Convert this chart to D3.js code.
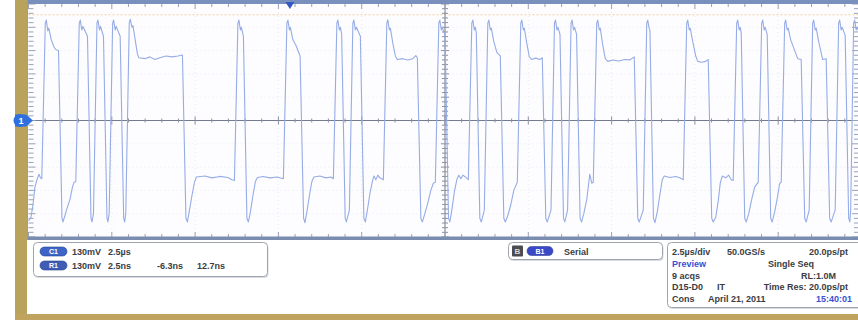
<!DOCTYPE html>
<html>
<head>
<meta charset="utf-8">
<script src="https://d3js.org/d3.v7.min.js"></script>
<style>
  body { margin: 0; background: #ffffff; }
  svg { display: block; }
  text { font-family: "Liberation Sans", Arial, sans-serif; font-weight: bold; }
</style>
</head>
<body>
<div id="chart"></div>
<script>
// Acquisition window: 10 x 2.5 ns horizontally, 10 x 130 mV vertically
const timeSpanPs = [0, 25000];
const voltSpanMv = [-650, 650];
const psPerDiv = 2500;
const mvPerDiv = 130;

// Trace samples [time ps, level mV]
const traceSamples = [
  [0,-560],[75,-540],[135,-470],[195,-370],[255,-330],[315,-300],[360,-320],[399,-325],
  [504,545],[534,560],[579,500],[609,515],[684,450],[765,410],[825,395],[900,390],
  [1005,-545],[1035,-566],[1095,-530],[1155,-490],[1245,-440],[1320,-370],[1365,-345],[1419,-340],
  [1524,545],[1554,560],[1599,505],[1635,525],[1770,470],
  [1875,-545],[1905,-566],[1950,-520],
  [2055,545],[2085,560],[2130,505],[2160,525],[2250,470],
  [2355,-545],[2385,-566],[2421,-520],
  [2526,545],[2556,560],[2601,505],[2631,525],[2751,470],
  [2856,-545],[2886,-566],[2919,-520],
  [3024,545],[3054,565],[3105,520],[3135,530],[3210,440],[3270,370],[3315,350],[3495,345],[3645,355],[3795,340],[3945,350],[4125,360],[4305,355],[4485,360],[4620,365],
  [4725,-545],[4770,-566],[4830,-500],[4905,-420],[4980,-345],[5040,-315],[5295,-310],[5505,-320],[5745,-312],[5985,-318],[6105,-330],[6180,-335],
  [6285,545],[6315,560],[6360,505],[6390,520],[6450,470],
  [6555,-545],[6600,-566],[6660,-510],[6735,-420],[6810,-340],[6870,-318],[7035,-312],[7245,-320],[7455,-315],[7650,-325],
  [7755,545],[7785,560],[7830,505],[7860,520],[7935,450],[8025,420],[8151,360],
  [8256,-545],[8295,-570],[8355,-510],[8430,-420],[8505,-340],[8565,-315],[8745,-310],[8925,-320],[9075,-315],[9150,-325],
  [9255,545],[9285,560],[9330,505],[9360,520],[9399,480],
  [9504,-545],[9540,-566],[9630,-500],
  [9735,545],[9765,560],[9810,505],[9840,520],[9960,470],
  [10065,-545],[10110,-566],[10170,-500],[10245,-410],[10320,-340],[10365,-310],[10425,-330],[10485,-305],[10545,-320],[10650,-330],
  [10755,545],[10785,562],[10830,505],[10860,515],[10935,430],[11010,360],[11070,340],[11235,345],[11385,338],[11535,345],[11625,362],[11670,350],
  [11775,-545],[11820,-566],[11895,-520],[11985,-460],[12075,-390],[12150,-350],[12210,-345],
  [12315,545],[12345,560],[12390,505],[12420,520],[12501,475],
  [12606,-545],[12645,-566],[12705,-500],[12780,-400],[12855,-330],[12915,-305],[12975,-325],[13035,-305],[13110,-315],[13200,-330],
  [13305,545],[13335,560],[13380,505],[13410,520],[13440,490],
  [13545,-545],[13590,-566],[13680,-500],
  [13785,545],[13815,560],[13860,505],[13890,515],[13965,440],[14055,380],[14160,360],
  [14265,-545],[14310,-566],[14385,-530],[14475,-470],[14565,-390],[14670,-345],
  [14775,545],[14805,560],[14850,505],[14880,515],[14955,430],[15030,355],[15105,340],[15225,348],[15345,340],[15420,350],
  [15525,-545],[15570,-566],[15681,-500],
  [15786,545],[15816,560],[15861,505],[15891,520],[15951,480],
  [16056,-545],[16095,-566],[16179,-500],
  [16284,545],[16314,560],[16359,505],[16389,520],[16449,480],
  [16554,-545],[16599,-566],[16665,-520],[16755,-440],[16845,-300],[16905,-350],[16950,-345],
  [17055,545],[17085,560],[17130,505],[17160,515],[17235,420],[17310,345],[17385,330],[17535,338],[17715,332],[17895,340],[18045,338],[18180,355],
  [18285,-545],[18330,-566],[18450,-500],
  [18555,545],[18585,560],[18621,520],[18651,500],
  [18756,-545],[18801,-570],[18870,-510],[18945,-420],[19020,-330],[19080,-310],[19245,-318],[19425,-312],[19545,-320],[19650,-330],
  [19755,545],[19785,560],[19830,505],[19860,515],[19935,440],[20025,360],[20085,330],[20205,325],[20325,330],[20400,340],
  [20505,-545],[20550,-566],[20625,-540],[20700,-450],[20760,-350],[20820,-310],[20925,-320],[21015,-305],[21090,-330],[21150,-335],
  [21255,545],[21285,560],[21330,505],[21360,520],[21390,490],
  [21495,-545],[21540,-566],[21615,-520],[21705,-440],[21795,-370],[21900,-345],
  [22005,545],[22035,560],[22080,505],[22110,520],[22170,480],
  [22275,-545],[22320,-566],[22395,-510],[22485,-420],[22545,-350],[22590,-345],
  [22695,545],[22725,560],[22770,505],[22800,515],[22875,450],[22995,390],[23085,345],[23190,340],
  [23295,-545],[23340,-566],[23430,-500],
  [23535,545],[23565,560],[23610,505],[23640,515],[23715,440],[23835,340],[23940,345],
  [24045,-545],[24090,-566],[24210,-500],
  [24315,545],[24345,560],[24390,505],[24420,520],[24510,475],
  [24615,-545],[24651,-566],[24675,-500],
  [24765,545],[24795,560],[24840,505],[24870,520],[24990,470]
];

const triggerPs = 7845;
const refLevelMv = 590;

// Readout texts
const chanRows = [
  { badge: "C1", values: ["130mV", "2.5µs"] },
  { badge: "R1", values: ["130mV", "2.5ns", "-6.3ns", "12.7ns"] }
];
const chanValueX = [72, 108, 157, 197];
const serialLabel = "Serial";
const acqRows = [
  ["2.5µs/div", "50.0GS/s", "20.0ps/pt"],
  ["Preview", "Single Seq", ""],
  ["9 acqs", "", "RL:1.0M"],
  ["D15-D0", "IT", "Time Res: 20.0ps/pt"],
  ["Cons", "April 21, 2011", "15:40:01"]
];

const W = 858, H = 323;
const plot = { left: 28.5, right: 861.5, top: 4, bottom: 237 };

const svg = d3.select('#chart').append('svg')
  .attr('width', W)
  .attr('height', H);

svg.append('rect').attr('width', W).attr('height', H).attr('fill', '#ffffff');

const x = d3.scaleLinear().domain(timeSpanPs).range([plot.left, plot.right]);
const y = d3.scaleLinear().domain(voltSpanMv).range([plot.bottom, plot.top]);

// gold frame on the left and bottom
svg.append('rect').attr('x', 15).attr('y', 0).attr('width', 12).attr('height', 320).attr('fill', '#b9a25c');
svg.append('rect').attr('x', 15).attr('y', 314).attr('width', W - 15).attr('height', 6).attr('fill', '#bfa35f');

// screen background
svg.append('rect')
  .attr('x', 27).attr('y', 0).attr('width', W - 27).attr('height', 240)
  .attr('fill', '#fdfdff');

const xMajor = d3.range(timeSpanPs[0], timeSpanPs[1] + 1, psPerDiv);
const xMinor = d3.range(timeSpanPs[0], timeSpanPs[1] + 1, psPerDiv / 5);
const yMajor = d3.range(voltSpanMv[0], voltSpanMv[1] + 1, mvPerDiv);
const yMinor = d3.range(voltSpanMv[0], voltSpanMv[1] + 1, mvPerDiv / 5);

const grid = svg.append('g');

// faint dotted graticule
grid.selectAll('line.vg').data(xMajor.slice(1, -1)).enter().append('line')
  .attr('x1', d => x(d)).attr('x2', d => x(d))
  .attr('y1', plot.top).attr('y2', plot.bottom)
  .attr('stroke', '#e8ebf1').attr('stroke-dasharray', '1,3');
grid.selectAll('line.hg').data(yMajor.slice(1, -1)).enter().append('line')
  .attr('y1', d => y(d)).attr('y2', d => y(d))
  .attr('x1', plot.left).attr('x2', plot.right)
  .attr('stroke', '#e8ebf1').attr('stroke-dasharray', '1,3');

// reference level
grid.append('line')
  .attr('x1', plot.left).attr('x2', plot.right)
  .attr('y1', y(refLevelMv)).attr('y2', y(refLevelMv))
  .attr('stroke', '#f3cf9c').attr('stroke-dasharray', '2,2');

// center crosshair
const x0 = x((timeSpanPs[0] + timeSpanPs[1]) / 2);
const y0 = y(0);
grid.append('line').attr('x1', plot.left).attr('x2', plot.right).attr('y1', y0).attr('y2', y0)
  .attr('stroke', '#747b8c').attr('stroke-width', 1);
grid.append('line').attr('x1', x0).attr('x2', x0).attr('y1', plot.top).attr('y2', plot.bottom)
  .attr('stroke', '#747b8c').attr('stroke-width', 1);

// ticks on crosshair and edges
const isMajorX = d => d % psPerDiv === 0;
const isMajorY = d => Math.abs(d % mvPerDiv) < 1e-6;
grid.selectAll('line.tx').data(xMinor).enter().append('line')
  .attr('x1', d => x(d)).attr('x2', d => x(d))
  .attr('y1', d => y0 - (isMajorX(d) ? 4 : 2)).attr('y2', d => y0 + (isMajorX(d) ? 4 : 2))
  .attr('stroke', '#8a90a0');
grid.selectAll('line.ty').data(yMinor).enter().append('line')
  .attr('y1', d => y(d)).attr('y2', d => y(d))
  .attr('x1', d => x0 - (isMajorY(d) ? 4 : 3)).attr('x2', d => x0 + (isMajorY(d) ? 4 : 3))
  .attr('stroke', '#8a90a0');
grid.selectAll('line.tt').data(xMinor).enter().append('line')
  .attr('x1', d => x(d)).attr('x2', d => x(d))
  .attr('y1', plot.top).attr('y2', d => plot.top + (isMajorX(d) ? 5 : 3))
  .attr('stroke', '#9aa2b4');
grid.selectAll('line.tb').data(xMinor).enter().append('line')
  .attr('x1', d => x(d)).attr('x2', d => x(d))
  .attr('y1', plot.bottom).attr('y2', d => plot.bottom - (isMajorX(d) ? 5 : 3))
  .attr('stroke', '#9aa2b4');
grid.selectAll('line.tl').data(yMinor).enter().append('line')
  .attr('y1', d => y(d)).attr('y2', d => y(d))
  .attr('x1', plot.left).attr('x2', d => plot.left + (isMajorY(d) ? 7 : 5))
  .attr('stroke', '#9aa2b4');
grid.selectAll('line.tr').data(yMinor).enter().append('line')
  .attr('y1', d => y(d)).attr('y2', d => y(d))
  .attr('x1', W).attr('x2', d => W - (isMajorY(d) ? 6 : 4))
  .attr('stroke', '#9aa2b4');

// screen border bands
svg.append('rect').attr('x', 27).attr('y', 0).attr('width', W - 27).attr('height', 4).attr('fill', '#7890bb');
svg.append('rect').attr('x', 27).attr('y', 236.5).attr('width', W - 27).attr('height', 3.5).attr('fill', '#7a8db0');
svg.append('line').attr('x1', 27.5).attr('x2', 27.5).attr('y1', 0).attr('y2', 240).attr('stroke', '#8f9fc0');

// waveform
const line = d3.line()
  .x(d => x(d[0]))
  .y(d => y(d[1]));

svg.append('path')
  .datum(traceSamples)
  .attr('d', line)
  .attr('fill', 'none')
  .attr('stroke', '#96ace6')
  .attr('stroke-width', 1.1)
  .attr('stroke-linejoin', 'round');

// trigger position marker
const tx = x(triggerPs);
svg.append('path')
  .attr('d', `M${tx - 4.5},2 L${tx + 4.5},2 L${tx},9 Z`)
  .attr('fill', '#3558c8');

// channel 1 ground marker
svg.append('path')
  .attr('d', `M${15},${y0 - 6} L${26},${y0 - 6} L${33},${y0} L${26},${y0 + 6} L${15},${y0 + 6} Z`)
  .attr('fill', '#2f6fe0');
svg.append('circle').attr('cx', 20).attr('cy', y0).attr('r', 6.5).attr('fill', '#2f6fe0');
svg.append('text').attr('x', 21).attr('y', y0 + 3.5).attr('text-anchor', 'middle')
  .attr('fill', '#ffffff').style('font-size', '9px').text('1');

// readout panels
function panel(px, py, pw, ph) {
  svg.append('rect')
    .attr('x', px + 1).attr('y', py + 1.5).attr('width', pw).attr('height', ph).attr('rx', 4)
    .attr('fill', '#d9dce2');
  svg.append('rect')
    .attr('x', px).attr('y', py).attr('width', pw).attr('height', ph).attr('rx', 4)
    .attr('fill', '#ffffff').attr('stroke', '#9ea3ad').attr('stroke-width', 1);
}

function badge(bx, by, bw, label, fill) {
  svg.append('rect')
    .attr('x', bx).attr('y', by).attr('width', bw).attr('height', 9).attr('rx', 4.5)
    .attr('fill', fill).attr('stroke', '#2a4594').attr('stroke-width', 0.6);
  svg.append('text')
    .attr('x', bx + bw / 2).attr('y', by + 7.3).attr('text-anchor', 'middle')
    .attr('fill', '#ffffff').style('font-size', '7px').text(label);
}

panel(33.5, 242.5, 234, 34);
chanRows.forEach((row, i) => {
  const by = 247 + i * 14;
  badge(40, by, 27, row.badge, i === 0 ? '#3d64c6' : '#3f5db4');
  row.values.forEach((v, j) => {
    svg.append('text')
      .attr('x', chanValueX[j]).attr('y', by + 8)
      .attr('fill', '#3a3d44').style('font-size', '9px').text(v);
  });
});

panel(508.5, 242.5, 154, 17);
svg.append('rect').attr('x', 512).attr('y', 245.5).attr('width', 11).attr('height', 11).attr('rx', 1)
  .attr('fill', '#4a4c52');
svg.append('text').attr('x', 517.5).attr('y', 254).attr('text-anchor', 'middle')
  .attr('fill', '#d8d8d8').style('font-size', '8px').text('B');
badge(527, 246.5, 26, 'B1', '#3a48c8');
svg.append('text').attr('x', 564).attr('y', 255).attr('fill', '#3a3d44')
  .style('font-size', '9px').text(serialLabel);

panel(667.5, 242.5, 200, 65);
const acqX = [672, 727, 848];
const acqMidX = [672, 768, 836];
acqRows.forEach((row, i) => {
  const by = 255 + i * 11.8;
  row.forEach((v, j) => {
    if (!v) return;
    let xx, anchor = 'start';
    if (i === 0) { xx = acqX[j]; if (j === 2) anchor = 'end'; }
    else if (i === 3) { xx = [672, 717, 848][j]; if (j === 2) anchor = 'end'; }
    else if (i === 4) { xx = [672, 708, 852][j]; if (j === 2) anchor = 'end'; }
    else { xx = acqMidX[j]; if (j === 2) anchor = 'end'; }
    const blue = (i === 1 && j === 0) || (i === 4 && j === 2);
    svg.append('text')
      .attr('x', xx).attr('y', by).attr('text-anchor', anchor)
      .attr('fill', blue ? '#3a4fd4' : '#3a3d44')
      .style('font-size', '9px').text(v);
  });
});
</script>
</body>
</html>
